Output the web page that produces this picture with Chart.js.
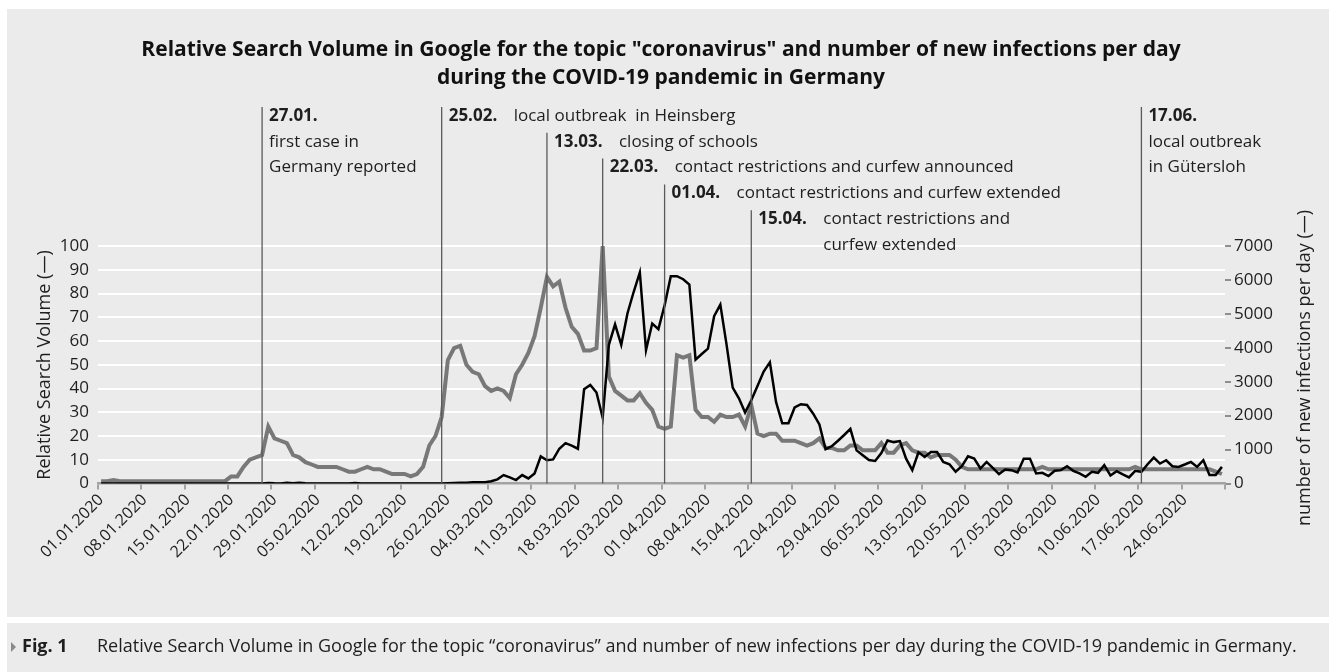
<!DOCTYPE html>
<html><head><meta charset="utf-8">
<script src="https://cdn.jsdelivr.net/npm/chart.js@4.4.1/dist/chart.umd.min.js"></script>
<style>
html,body{margin:0;padding:0;background:#fff;overflow:hidden;}
#c{position:absolute;left:0;top:0;}
</style></head><body>
<canvas id="c" width="1333" height="672"></canvas>
<script>
// ---- categories (daily, 01.01.2020 - 30.06.2020) ----
const monthDays = [31, 29, 31, 30, 31, 30];
const dates = [];
monthDays.forEach((n, m) => { for (let d = 1; d <= n; d++) dates.push(String(d).padStart(2,'0') + '.' + String(m+1).padStart(2,'0') + '.2020'); });

// ---- series: Relative Search Volume (left axis) ----
const searchVolume = [
1,1,1.5,1,1,1,1,1,1,1,
1,1,1,1,1,1,1,1,1,1,
1,3,3,7,10,11,12,24,19,18,
17,12,11,9,8,7,7,7,7,6,
5,5,6,7,6,6,5,4,4,4,
3,4,7,16,20,28,52,57,58,50,
47,46,41,39,40,39,36,46,50,55,
62,74,87,83,85,74,66,63,56,56,
57,100,45,39,37,35,35,38,34,31,
24,23,24,54,53,54,31,28,28,26,
29,28,28,29,24,33,21,20,21,21,
18,18,18,17,16,17,19,15,15,14,
14,16,16,14,14,14,17,13,13,16,
17,14,13,13,11,12,12,12,10,7,
6,6,6,6,6,6,6,6,6,6,
6,6,7,6,6,6,6,6,6,6,
6,6,6,6,6,6,6,7,6,6,
6,6,6,6,6,6,6,6,6,6,
5,4
];

// ---- series: new infections per day (right axis) ----
const newInfections = [
0,0,0,0,0,0,0,0,0,0,
0,0,0,0,0,0,0,0,0,0,
0,0,0,0,0,0,0,15,5,0,
20,5,20,5,0,0,0,0,0,0,
0,15,0,0,0,0,0,0,0,0,
0,0,0,0,0,0,10,15,20,25,
35,35,40,66,122,248,180,102,248,150,
295,800,686,710,1025,1190,1118,1025,2777,2902,
2680,1940,4089,4691,4089,5012,5644,6220,3930,4715,
4550,5250,6111,6111,6020,5860,3652,3817,3973,4930,
5274,4100,2824,2510,2094,2454,2873,3300,3570,2400,
1775,1775,2241,2338,2315,2056,1740,1010,1100,1260,
1430,1610,977,831,690,666,899,1269,1220,1250,
733,394,918,782,928,928,636,568,345,510,
802,733,442,636,462,277,413,394,326,733,
733,297,316,219,374,394,510,374,297,199,
345,316,540,238,364,267,180,374,345,568,
763,588,685,510,490,560,636,490,685,248,
248,490
];

// ---- texts ----
const titleLines = ['Relative Search Volume in Google for the topic "coronavirus" and number of new infections per day', 'during the COVID-19 pandemic in Germany'];
const leftTitle = 'Relative Search Volume (\u2014)';
const rightTitle = 'number of new infections per day (\u2014)';
const captionBold = 'Fig. 1';
const captionText = 'Relative Search Volume in Google for the topic \u201ccoronavirus\u201d and number of new infections per day during the COVID-19 pandemic in Germany.';
const eventDates = ['27.01.2020','25.02.2020','13.03.2020','22.03.2020','01.04.2020','15.04.2020','17.06.2020'];
const eventLabels = ['27.01.','25.02.','13.03.','22.03.','01.04.','15.04.','17.06.'];
const eventTexts = [['first case in','Germany reported'],['local outbreak  in Heinsberg'],['closing of schools'],['contact restrictions and curfew announced'],['contact restrictions and curfew extended'],['contact restrictions and','curfew extended'],['local outbreak','in G\u00fctersloh']];

// layout of annotations (row index, inline text)
const eventRows = [0,0,1,2,3,4,0];
const eventInline = [false,true,true,true,true,true,false];

const FONT = '"Open Sans", "Noto Sans", sans-serif';
const TXT = '#1e1e1e';

function fitSize(c, text, weight, target) {
  c.font = weight + ' 20px ' + FONT;
  return 20 * target / c.measureText(text).width;
}

const decor = {
  id: 'decor',
  beforeDraw(chart) {
    const c = chart.ctx;
    c.save();
    c.fillStyle = '#ffffff'; c.fillRect(0, 0, 1333, 672);
    c.fillStyle = '#ebebeb';
    c.fillRect(7, 9, 1322, 608);
    c.fillRect(7, 623, 1322, 49);
    c.restore();
  },
  afterDatasetsDraw(chart) {
    const c = chart.ctx;
    const xs = chart.scales.x;
    const bottom = chart.chartArea.bottom;
    const rowY = r => 116 + 25.8 * r;
    c.save();
    c.textBaseline = 'middle';
    eventDates.forEach((d, k) => {
      const x = xs.getPixelForValue(dates.indexOf(d));
      const r = eventRows[k];
      c.strokeStyle = '#5a5a5a';
      c.lineWidth = 1.3;
      c.beginPath();
      c.moveTo(x, rowY(r) - 9);
      c.lineTo(x, bottom);
      c.stroke();
      c.fillStyle = TXT;
      c.textAlign = 'left';
      c.font = 'bold 17px ' + FONT;
      c.fillText(eventLabels[k], x + 7, rowY(r));
      c.font = '17px ' + FONT;
      eventTexts[k].forEach((t, j) => {
        if (eventInline[k]) c.fillText(t, x + 72, rowY(r + j));
        else c.fillText(t, x + 7, rowY(r + 1 + j));
      });
    });
    c.restore();
  },
  afterDraw(chart) {
    const c = chart.ctx;
    c.save();
    c.fillStyle = '#111';
    c.textAlign = 'center';
    c.textBaseline = 'middle';
    const ts = Math.max(17, Math.min(21, fitSize(c, titleLines[0], 'bold', 1058)));
    c.font = 'bold ' + ts.toFixed(2) + 'px ' + FONT;
    c.fillText(titleLines[0], 661, 50);
    c.fillText(titleLines[1], 661, 78);

    // axis titles
    c.fillStyle = TXT;
    c.font = '18px ' + FONT;
    c.save(); c.translate(45, 365); c.rotate(-Math.PI / 2); c.fillText(leftTitle, 0, 0); c.restore();
    c.save(); c.translate(1305, 368); c.rotate(-Math.PI / 2); c.fillText(rightTitle, 0, 0); c.restore();

    // caption
    const cy = 647;
    c.fillStyle = '#8a8a8a';
    c.beginPath(); c.moveTo(11, cy - 5); c.lineTo(16, cy); c.lineTo(11, cy + 5); c.closePath(); c.fill();
    c.fillStyle = TXT;
    c.textAlign = 'left';
    const cs = Math.max(14, Math.min(18, fitSize(c, captionText, 'normal', 1220)));
    c.font = 'bold ' + cs.toFixed(2) + 'px ' + FONT;
    c.fillText(captionBold, 22, cy);
    c.font = cs.toFixed(2) + 'px ' + FONT;
    c.fillText(captionText, 97, cy);
    c.restore();
  }
};

const tickGray = '#a3a3a3';
new Chart(document.getElementById('c').getContext('2d'), {
  type: 'line',
  data: {
    labels: dates,
    datasets: [
      { label: 'number of new infections per day', data: newInfections, yAxisID: 'yR', borderColor: '#000', borderWidth: 2.5, pointRadius: 0, tension: 0, order: 0 },
      { label: 'Relative Search Volume', data: searchVolume, yAxisID: 'yL', borderColor: '#787878', borderWidth: 4, pointRadius: 0, tension: 0, order: 1 }
    ]
  },
  options: {
    responsive: false,
    animation: false,
    devicePixelRatio: 1,
    layout: { padding: { top: 246, left: 0, right: 0, bottom: 0 } },
    plugins: { legend: { display: false }, title: { display: false }, tooltip: { enabled: false } },
    scales: {
      x: {
        type: 'category',
        offset: true,
        grid: {
          offset: true, drawOnChartArea: false, drawTicks: true, tickLength: 6, lineWidth: 2,
          color: ctx => (ctx.index === undefined || ctx.index % 7 === 0) ? tickGray : 'rgba(0,0,0,0)'
        },
        border: { display: true, color: tickGray, width: 2.5 },
        ticks: {
          autoSkip: false, maxRotation: 45, minRotation: 45, padding: 1,
          font: { family: FONT, size: 16 }, color: TXT,
          callback: (v, i) => (i % 7 === 0 ? dates[i] : '')
        },
        afterFit: s => { s.height = 672 - 483.5; }
      },
      yL: {
        position: 'left', min: 0, max: 100,
        ticks: { stepSize: 10, padding: 9, font: { family: FONT, size: 17 }, color: TXT, callback: v => String(v) },
        grid: { drawTicks: false, lineWidth: 2, color: ctx => (ctx.tick && ctx.tick.value === 0) ? 'rgba(0,0,0,0)' : '#ffffff' },
        border: { display: false },
        afterFit: s => { s.width = 98; }
      },
      yR: {
        position: 'right', min: 0, max: 7000,
        ticks: { stepSize: 1000, padding: 3, font: { family: FONT, size: 17 }, color: TXT, callback: v => String(v) },
        grid: { drawOnChartArea: false, drawTicks: true, tickLength: 6, lineWidth: 2, color: '#8f8f8f' },
        border: { display: false },
        afterFit: s => { s.width = 1333 - 1225; }
      }
    }
  },
  plugins: [decor]
});
</script>
</body></html>
